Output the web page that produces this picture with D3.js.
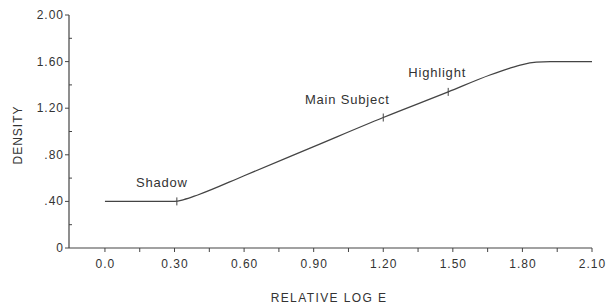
<!DOCTYPE html>
<html>
<head>
<meta charset="utf-8">
<script src="https://cdn.jsdelivr.net/npm/d3@7"></script>
<style>
  body { margin: 0; background: #fff; }
  svg text { font-family: 'Liberation Sans', Arial, sans-serif; fill: #333; }
</style>
</head>
<body>
<div id="chart"></div>
<script>
// characteristic curve
const logE = [0, 0.30, 0.34, 0.40, 0.60, 0.90, 1.20, 1.48, 1.66, 1.74, 1.80, 1.86, 1.92, 2.10]
const density = [0.40, 0.40, 0.415, 0.455, 0.62, 0.87, 1.12, 1.34, 1.485, 1.54, 1.575, 1.595, 1.60, 1.60]

// marked zones
const zoneNames = ['Shadow', 'Main Subject', 'Highlight']
const zoneLogE = [0.31, 1.20, 1.48]
const zoneDensity = [0.40, 1.12, 1.34]

const xTicks = [0, 0.30, 0.60, 0.90, 1.20, 1.50, 1.80, 2.10]
const xTickLabels = ['0.0', '0.30', '0.60', '0.90', '1.20', '1.50', '1.80', '2.10']
const yTicks = [0, 0.40, 0.80, 1.20, 1.60, 2.00]
const yTickLabels = ['0', '.40', '.80', '1.20', '1.60', '2.00']

const width = 606
const height = 305

const svg = d3.select('#chart')
  .append('svg')
  .attr('width', width)
  .attr('height', height)

const x = d3.scaleLinear().domain([-0.155, 2.10]).range([69, 592])
const y = d3.scaleLinear().domain([0, 2]).range([248, 15])

const stroke = '#444'

// x axis
const gx = svg.append('g').attr('transform', `translate(0,${y(0)})`)
gx.append('line')
  .attr('x1', x(-0.155)).attr('x2', x(2.10))
  .attr('stroke', stroke).attr('stroke-width', 1.2)
gx.selectAll('.xt')
  .data(d3.range(0, 15).map(i => i * 0.15))
  .enter().append('line')
  .attr('x1', d => x(d)).attr('x2', d => x(d))
  .attr('y1', 0).attr('y2', 4)
  .attr('stroke', stroke)
gx.selectAll('.xl')
  .data(xTicks)
  .enter().append('text')
  .attr('x', d => x(d) + 0.5)
  .attr('y', 20)
  .attr('text-anchor', 'middle')
  .style('font-size', '12px')
  .style('letter-spacing', '1px')
  .text((d, i) => xTickLabels[i])

// y axis
const gy = svg.append('g').attr('transform', `translate(${x(-0.155)},0)`)
gy.append('line')
  .attr('y1', y(0)).attr('y2', y(2))
  .attr('stroke', stroke).attr('stroke-width', 1.2)
gy.selectAll('.yt')
  .data(yTicks)
  .enter().append('line')
  .attr('y1', d => y(d)).attr('y2', d => y(d))
  .attr('x1', -4).attr('x2', 0)
  .attr('stroke', stroke)
gy.selectAll('.ym')
  .data(yTicks.slice(0, -1).map(d => d + 0.2))
  .enter().append('line')
  .attr('y1', d => y(d)).attr('y2', d => y(d))
  .attr('x1', 0).attr('x2', 3)
  .attr('stroke', stroke)
gy.selectAll('.yl')
  .data(yTicks)
  .enter().append('text')
  .attr('x', -5)
  .attr('y', d => y(d) + 4)
  .attr('text-anchor', 'end')
  .style('font-size', '12px')
  .style('letter-spacing', '1px')
  .text((d, i) => yTickLabels[i])

// axis titles
svg.append('text')
  .attr('x', 329)
  .attr('y', 302)
  .attr('text-anchor', 'middle')
  .style('font-size', '12px')
  .style('letter-spacing', '1.4px')
  .text('RELATIVE LOG E')

svg.append('text')
  .attr('transform', 'translate(22,135) rotate(-90)')
  .attr('text-anchor', 'middle')
  .style('font-size', '12px')
  .style('letter-spacing', '1px')
  .text('DENSITY')

// the curve
const line = d3.line()
  .x(d => x(d[0]))
  .y(d => y(d[1]))
  .curve(d3.curveMonotoneX)

svg.append('path')
  .datum(logE.map((d, i) => [d, density[i]]))
  .attr('d', line)
  .attr('fill', 'none')
  .attr('stroke', stroke)
  .attr('stroke-width', 1.3)

// zone marks and labels
const labelDx = [-15, -36, -11]
const labelDy = [-14, -14, -15]
svg.selectAll('.zm')
  .data(zoneNames)
  .enter().append('line')
  .attr('x1', (d, i) => x(zoneLogE[i])).attr('x2', (d, i) => x(zoneLogE[i]))
  .attr('y1', (d, i) => y(zoneDensity[i]) - 4)
  .attr('y2', (d, i) => y(zoneDensity[i]) + 4)
  .attr('stroke', stroke)
svg.selectAll('.zl')
  .data(zoneNames)
  .enter().append('text')
  .attr('x', (d, i) => x(zoneLogE[i]) + labelDx[i])
  .attr('y', (d, i) => y(zoneDensity[i]) + labelDy[i])
  .attr('text-anchor', 'middle')
  .style('font-size', '13px')
  .style('letter-spacing', '0.8px')
  .text(d => d)
</script>
</body>
</html>
